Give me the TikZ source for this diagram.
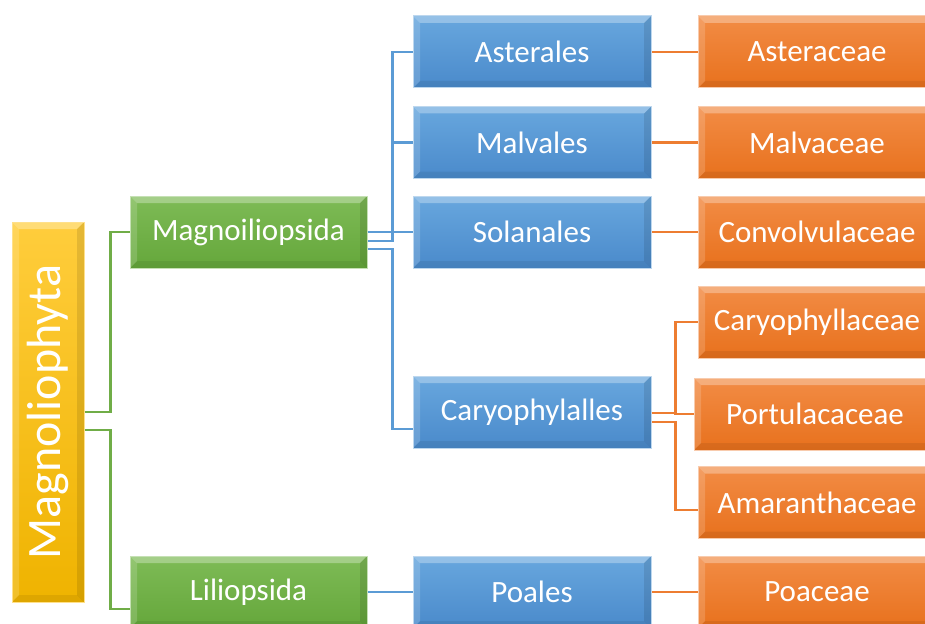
\documentclass[tikz,border=0pt]{standalone}
\usepackage{fontspec}
\setmainfont{Carlito}

\definecolor{goldA}{HTML}{FFCD3C}
\definecolor{goldB}{HTML}{EFB300}
\definecolor{goldE}{HTML}{FFE08A}
\definecolor{greenA}{HTML}{7EBB56}
\definecolor{greenB}{HTML}{65A73B}
\definecolor{greenE}{HTML}{C5E0B4}
\definecolor{blueA}{HTML}{68A7DE}
\definecolor{blueB}{HTML}{4A8ACB}
\definecolor{blueE}{HTML}{BDD7EE}
\definecolor{orangeA}{HTML}{F28C45}
\definecolor{orangeB}{HTML}{E8711D}
\definecolor{orangeE}{HTML}{F8CBAD}
\definecolor{greenL}{HTML}{70AD47}
\definecolor{blueL}{HTML}{5B9BD5}
\definecolor{orangeL}{HTML}{ED7D31}

\tikzset{
  bevel/.style = {path picture={
    \fill[white,opacity=.3] (path picture bounding box.north west) -- (path picture bounding box.north east)
      -- ([shift={(-7pt,-7pt)}]path picture bounding box.north east) -- ([shift={(7pt,-7pt)}]path picture bounding box.north west) -- cycle;
    \fill[white,opacity=.16] (path picture bounding box.north west) -- ([shift={(7pt,-7pt)}]path picture bounding box.north west)
      -- ([shift={(7pt,7pt)}]path picture bounding box.south west) -- (path picture bounding box.south west) -- cycle;
    \fill[black,opacity=.07] (path picture bounding box.south west) -- ([shift={(7pt,7pt)}]path picture bounding box.south west)
      -- ([shift={(-7pt,7pt)}]path picture bounding box.south east) -- (path picture bounding box.south east) -- cycle;
    \fill[black,opacity=.1] (path picture bounding box.north east) -- ([shift={(-7pt,-7pt)}]path picture bounding box.north east)
      -- ([shift={(-7pt,7pt)}]path picture bounding box.south east) -- (path picture bounding box.south east) -- cycle;
  }},
}

\begin{document}
\begin{tikzpicture}[
  x=1pt, y=-1pt,
  box/.style = {minimum height=72pt, inner sep=0pt, text=white, line width=1pt,
    font=\fontsize{31}{36}\selectfont, bevel},
  rootbox/.style = {box, minimum width=72pt, minimum height=380pt, top color=goldA, bottom color=goldB,
    draw=goldE, font=\fontsize{48}{52}\selectfont},
  classbox/.style = {box, minimum width=237pt, top color=greenA, bottom color=greenB, draw=greenE},
  orderbox/.style = {box, minimum width=238pt, top color=blueA, bottom color=blueB, draw=blueE},
  familybox/.style = {box, minimum width=238pt, top color=orangeA, bottom color=orangeB, draw=orangeE},
  gline/.style = {draw=greenL, line width=2.6pt},
  bline/.style = {draw=blueL, line width=2.6pt},
  oline/.style = {draw=orangeL, line width=2.6pt},
  ]
  \useasboundingbox (0,0) rectangle (925,623);
  \clip (0,0) rectangle (925,623);

  % division
  \node[rootbox] (root) at (48,412) {\rotatebox{90}{Magnoliophyta}};

  % classes
  \node[classbox] (magno) at (248.5,232) {Magnoiliopsida};
  \node[classbox] (lilio) at (248.5,592) {Liliopsida};

  % orders
  \node[orderbox] (aster) at (532,52) {Asterales};
  \node[orderbox] (malv) at (532,142.5) {Malvales};
  \node[orderbox] (solan) at (532,232) {Solanales};
  \node[orderbox] (caryo) at (532,412) {Caryophylalles};
  \node[orderbox] (poales) at (532,592) {Poales};

  % families
  \node[familybox] (asterac) at (817,52) {Asteraceae};
  \node[familybox] (malvac) at (817,142.5) {Malvaceae};
  \node[familybox] (convol) at (817,232) {Convolvulaceae};
  \node[familybox] (caryoph) at (817,322) {Caryophyllaceae};
  \node[familybox, minimum width=242pt] (portul) at (815,414) {Portulacaceae};
  \node[familybox] (amar) at (817,502.5) {Amaranthaceae};
  \node[familybox] (poac) at (817,592) {Poaceae};

  \draw[gline] (root.east) -- ++(26,0) |- (magno.west);
  \draw[gline] ([yshift=-18pt]root.east) -- ++(26,0) |- ([yshift=-17pt]lilio.west);

  \draw[bline] (magno.east) -- ++(25,0) |- (aster.west);
  \draw[bline] ([yshift=-9pt]magno.east) -- ++(25,0) |- (malv.west);
  \draw[bline] (magno.east) -- ++(25,0) |- (solan.west);
  \draw[bline] ([yshift=-17pt]magno.east) -- ++(25,0) |- ([yshift=-17pt]caryo.west);
  \draw[bline] (lilio.east) -- (poales.west);

  \draw[oline] (aster.east) -- (asterac.west);
  \draw[oline] (malv.east) -- (malvac.west);
  \draw[oline] (solan.east) -- (convol.west);
  \draw[oline] ([yshift=-1pt]caryo.east) -- ++(24,0) |- (caryoph.west);
  \draw[oline] ([yshift=-1pt]caryo.east) -- ++(24,0) |- (portul.west);
  \draw[oline] ([yshift=-10pt]caryo.east) -- ++(24,0) |- ([yshift=-7.5pt]amar.west);
  \draw[oline] (poales.east) -- (poac.west);

\end{tikzpicture}
\end{document}
